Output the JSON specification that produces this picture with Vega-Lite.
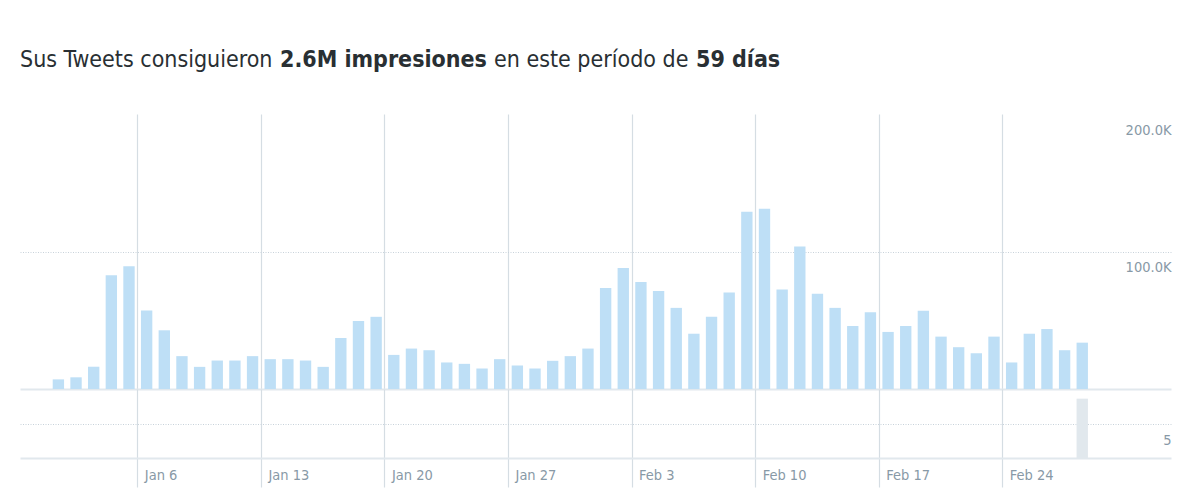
{
  "$schema": "https://vega.github.io/schema/vega-lite/v6.json",
  "padding": {"left": 20, "top": 49, "right": 23, "bottom": 0},
  "background": "white",
  "data": {
    "values": [
      {"fecha": "2019-01-01", "impresiones": 7000, "otros": 0},
      {"fecha": "2019-01-02", "impresiones": 8500, "otros": 0},
      {"fecha": "2019-01-03", "impresiones": 16200, "otros": 0},
      {"fecha": "2019-01-04", "impresiones": 82700, "otros": 0},
      {"fecha": "2019-01-05", "impresiones": 89200, "otros": 0},
      {"fecha": "2019-01-06", "impresiones": 57100, "otros": 0},
      {"fecha": "2019-01-07", "impresiones": 42700, "otros": 0},
      {"fecha": "2019-01-08", "impresiones": 23900, "otros": 0},
      {"fecha": "2019-01-09", "impresiones": 16100, "otros": 0},
      {"fecha": "2019-01-10", "impresiones": 20700, "otros": 0},
      {"fecha": "2019-01-11", "impresiones": 20700, "otros": 0},
      {"fecha": "2019-01-12", "impresiones": 23900, "otros": 0},
      {"fecha": "2019-01-13", "impresiones": 21700, "otros": 0},
      {"fecha": "2019-01-14", "impresiones": 21700, "otros": 0},
      {"fecha": "2019-01-15", "impresiones": 20700, "otros": 0},
      {"fecha": "2019-01-16", "impresiones": 16100, "otros": 0},
      {"fecha": "2019-01-17", "impresiones": 37100, "otros": 0},
      {"fecha": "2019-01-18", "impresiones": 49400, "otros": 0},
      {"fecha": "2019-01-19", "impresiones": 52500, "otros": 0},
      {"fecha": "2019-01-20", "impresiones": 24800, "otros": 0},
      {"fecha": "2019-01-21", "impresiones": 29400, "otros": 0},
      {"fecha": "2019-01-22", "impresiones": 28200, "otros": 0},
      {"fecha": "2019-01-23", "impresiones": 19300, "otros": 0},
      {"fecha": "2019-01-24", "impresiones": 18300, "otros": 0},
      {"fecha": "2019-01-25", "impresiones": 14900, "otros": 0},
      {"fecha": "2019-01-26", "impresiones": 21700, "otros": 0},
      {"fecha": "2019-01-27", "impresiones": 17100, "otros": 0},
      {"fecha": "2019-01-28", "impresiones": 14900, "otros": 0},
      {"fecha": "2019-01-29", "impresiones": 20500, "otros": 0},
      {"fecha": "2019-01-30", "impresiones": 23900, "otros": 0},
      {"fecha": "2019-01-31", "impresiones": 29400, "otros": 0},
      {"fecha": "2019-02-01", "impresiones": 73500, "otros": 0},
      {"fecha": "2019-02-02", "impresiones": 88000, "otros": 0},
      {"fecha": "2019-02-03", "impresiones": 77800, "otros": 0},
      {"fecha": "2019-02-04", "impresiones": 71300, "otros": 0},
      {"fecha": "2019-02-05", "impresiones": 59000, "otros": 0},
      {"fecha": "2019-02-06", "impresiones": 40200, "otros": 0},
      {"fecha": "2019-02-07", "impresiones": 52500, "otros": 0},
      {"fecha": "2019-02-08", "impresiones": 70100, "otros": 0},
      {"fecha": "2019-02-09", "impresiones": 128900, "otros": 0},
      {"fecha": "2019-02-10", "impresiones": 131100, "otros": 0},
      {"fecha": "2019-02-11", "impresiones": 72300, "otros": 0},
      {"fecha": "2019-02-12", "impresiones": 103600, "otros": 0},
      {"fecha": "2019-02-13", "impresiones": 69200, "otros": 0},
      {"fecha": "2019-02-14", "impresiones": 59000, "otros": 0},
      {"fecha": "2019-02-15", "impresiones": 45800, "otros": 0},
      {"fecha": "2019-02-16", "impresiones": 55900, "otros": 0},
      {"fecha": "2019-02-17", "impresiones": 41500, "otros": 0},
      {"fecha": "2019-02-18", "impresiones": 45800, "otros": 0},
      {"fecha": "2019-02-19", "impresiones": 56900, "otros": 0},
      {"fecha": "2019-02-20", "impresiones": 38100, "otros": 0},
      {"fecha": "2019-02-21", "impresiones": 30400, "otros": 0},
      {"fecha": "2019-02-22", "impresiones": 26000, "otros": 0},
      {"fecha": "2019-02-23", "impresiones": 38100, "otros": 0},
      {"fecha": "2019-02-24", "impresiones": 19300, "otros": 0},
      {"fecha": "2019-02-25", "impresiones": 40200, "otros": 0},
      {"fecha": "2019-02-26", "impresiones": 43600, "otros": 0},
      {"fecha": "2019-02-27", "impresiones": 28200, "otros": 0},
      {"fecha": "2019-02-28", "impresiones": 33700, "otros": 8.6}
    ]
  },
  "spacing": 18,
  "vconcat": [
    {
      "spacing": 7,
      "hconcat": [
        {"data": {"values": []}, "width": 0, "height": 0, "mark": "point",
         "title": {"text": "Sus Tweets consiguieron", "fontWeight": "normal"}},
        {"data": {"values": []}, "width": 0, "height": 0, "mark": "point",
         "title": {"text": "2.6M impresiones", "fontWeight": "bold"}},
        {"data": {"values": []}, "width": 0, "height": 0, "mark": "point",
         "title": {"text": "en este período de", "fontWeight": "normal"}},
        {"data": {"values": []}, "width": 0, "height": 0, "mark": "point",
         "title": {"text": "59 días", "fontWeight": "bold"}}
      ]
    },
    {
      "spacing": 0,
      "vconcat": [
        {
          "width": 1151,
          "height": 275,
          "mark": {"type": "bar", "color": "#BEDFF6", "width": {"band": 0.7}},
          "encoding": {
            "x": {
              "field": "fecha",
              "timeUnit": "utcyearmonthdate",
              "type": "temporal",
              "scale": {"domain": [
                {"year": 2018, "month": 12, "date": 30, "hours": 8, "minutes": 30, "utc": true},
                {"year": 2019, "month": 3, "date": 5, "hours": 13, "minutes": 20, "utc": true}
              ]},
              "axis": {
                "title": null,
                "orient": "bottom",
                "labels": false,
                "ticks": false,
                "domain": true,
                "domainColor": "#E1E8ED",
                "domainWidth": 2,
                "grid": true,
                "gridColor": "#D5DDE3",
                "gridWidth": 1.2,
                "values": [
                  {"year": 2019, "month": 1, "date": 6, "utc": true},
                  {"year": 2019, "month": 1, "date": 13, "utc": true},
                  {"year": 2019, "month": 1, "date": 20, "utc": true},
                  {"year": 2019, "month": 1, "date": 27, "utc": true},
                  {"year": 2019, "month": 2, "date": 3, "utc": true},
                  {"year": 2019, "month": 2, "date": 10, "utc": true},
                  {"year": 2019, "month": 2, "date": 17, "utc": true},
                  {"year": 2019, "month": 2, "date": 24, "utc": true}
                ]
              }
            },
            "y": {
              "field": "impresiones",
              "type": "quantitative",
              "scale": {"domain": [0, 200000], "nice": false},
              "axis": {
                "title": null,
                "orient": "right",
                "values": [100000, 200000],
                "domain": false,
                "ticks": false,
                "grid": true,
                "gridColor": "#C8D2DA",
                "gridDash": [1, 1.5],
                "gridOpacity": {"condition": {"test": "datum.value >= 200000", "value": 0}, "value": 1},
                "labelAlign": "right",
                "labelBaseline": "middle",
                "labelPadding": 0,
                "labelOffset": 16,
                "labelColor": "#8899A6",
                "labelFontSize": 14.5,
                "labelFont": "DejaVu Sans Condensed, Roboto",
                "labelExpr": "format(datum.value / 1000, '.1f') + 'K'"
              }
            }
          }
        },
        {
          "width": 1151,
          "height": 69,
          "mark": {"type": "bar", "color": "#E1E8ED", "width": {"band": 0.7}},
          "encoding": {
            "x": {
              "field": "fecha",
              "timeUnit": "utcyearmonthdate",
              "type": "temporal",
              "scale": {"domain": [
                {"year": 2018, "month": 12, "date": 30, "hours": 8, "minutes": 30, "utc": true},
                {"year": 2019, "month": 3, "date": 5, "hours": 13, "minutes": 20, "utc": true}
              ]},
              "axis": {
                "title": null,
                "orient": "bottom",
                "format": "%b %-d",
                "labels": true,
                "labelAlign": "left",
                "labelBaseline": "middle",
                "labelOffset": 7,
                "labelPadding": -11.5,
                "labelColor": "#8899A6",
                "labelFontSize": 14.5,
                "labelFont": "DejaVu Sans Condensed, Roboto",
                "labelFlush": false,
                "labelOverlap": false,
                "ticks": true,
                "tickSize": 29,
                "tickColor": "#D5DDE3",
                "tickWidth": 1.2,
                "domain": true,
                "domainColor": "#E1E8ED",
                "domainWidth": 2,
                "grid": true,
                "gridColor": "#D5DDE3",
                "gridWidth": 1.2,
                "values": [
                  {"year": 2019, "month": 1, "date": 6, "utc": true},
                  {"year": 2019, "month": 1, "date": 13, "utc": true},
                  {"year": 2019, "month": 1, "date": 20, "utc": true},
                  {"year": 2019, "month": 1, "date": 27, "utc": true},
                  {"year": 2019, "month": 2, "date": 3, "utc": true},
                  {"year": 2019, "month": 2, "date": 10, "utc": true},
                  {"year": 2019, "month": 2, "date": 17, "utc": true},
                  {"year": 2019, "month": 2, "date": 24, "utc": true}
                ]
              }
            },
            "y": {
              "field": "otros",
              "type": "quantitative",
              "scale": {"domain": [0, 10], "nice": false},
              "axis": {
                "title": null,
                "orient": "right",
                "values": [5],
                "domain": false,
                "ticks": false,
                "grid": true,
                "gridColor": "#C8D2DA",
                "gridDash": [1, 1.5],
                "labelAlign": "right",
                "labelBaseline": "middle",
                "labelPadding": 0,
                "labelOffset": 17,
                "labelColor": "#8899A6",
                "labelFontSize": 14.5,
                "labelFont": "DejaVu Sans Condensed, Roboto"
              }
            }
          }
        }
      ]
    }
  ],
  "config": {
    "view": {"stroke": null},
    "font": "DejaVu Sans Condensed, Roboto",
    "title": {"anchor": "start", "fontSize": 23, "color": "#292F33", "offset": 0, "font": "DejaVu Sans Condensed, Roboto"}
  }
}
